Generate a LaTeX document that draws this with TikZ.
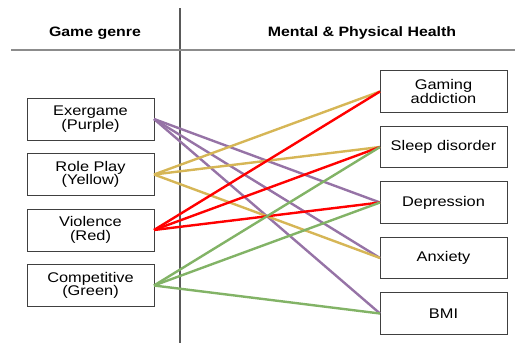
\documentclass[tikz,border=0pt]{standalone}
\usepackage{fontspec}
\setmainfont[FakeStretch=1.17]{Liberation Sans}
\usetikzlibrary{positioning}
\definecolor{purp}{HTML}{9673A6}
\definecolor{yel}{HTML}{D6B656}
\definecolor{rd}{HTML}{FF0000}
\definecolor{grn}{HTML}{82B366}
\tikzset{
  box/.style={draw=black!75, line width=0.9pt, minimum width=127pt, minimum height=42pt,
    inner sep=0pt, outer sep=0pt, align=center, font=\fontsize{14}{13.5}\selectfont},
  head/.style={font=\fontsize{13.6}{15}\selectfont\bfseries},
  link/.style={line width=2.4pt},
}
\begin{document}
\begin{tikzpicture}[x=1pt, y=-1pt]
		\useasboundingbox (0,0) rectangle (515,343);
		% frame lines
		\coordinate (top) at (180,8);
		\coordinate (bot) at (180,343);
		\coordinate (hl) at (11,50);
		\coordinate (hr) at (515,50);
		\draw[black!65, line width=1.4pt] (top) -- (bot);
		\draw[black!45, line width=1.8pt] (hl) -- (hr);
		\node[head] (hgenre) at (95,33) {Game genre};
		\node[head] (hhealth) at (362,33) {Mental \& Physical Health};
		%
		\node[box] (exer) at (90.5,119) {Exergame\\(Purple)};
		\node[box, below=13.5pt of exer] (role) {Role Play\\(Yellow)};
		\node[box, below=13.5pt of role] (viol) {Violence\\(Red)};
		\node[box, below=13.5pt of viol] (comp) {Competitive\\(Green)};
		%
		\node[box, minimum height=41.5pt] (gaming) at (443.5,91.5) {Gaming\\addiction};
		\node[box, minimum height=41.5pt, below=14pt of gaming] (sleep) {Sleep disorder};
		\node[box, minimum height=41.5pt, below=14pt of sleep] (dep) {Depression};
		\node[box, minimum height=41.5pt, below=14pt of dep] (anx) {Anxiety};
		\node[box, minimum height=41.5pt, below=14pt of anx] (bmi) {BMI};
		%
		\foreach \g/\h in {exer/dep, exer/anx, exer/bmi}
			\draw[link, purp] (\g.east) -- (\h.west);
		\foreach \g/\h in {role/gaming, role/sleep, role/anx}
			\draw[link, yel] (\g.east) -- (\h.west);
		\foreach \g/\h in {viol/gaming, viol/sleep, viol/dep}
			\draw[link, rd] (\g.east) -- (\h.west);
		\foreach \g/\h in {comp/sleep, comp/dep, comp/bmi}
			\draw[link, grn] (\g.east) -- (\h.west);
\end{tikzpicture}
\end{document}
